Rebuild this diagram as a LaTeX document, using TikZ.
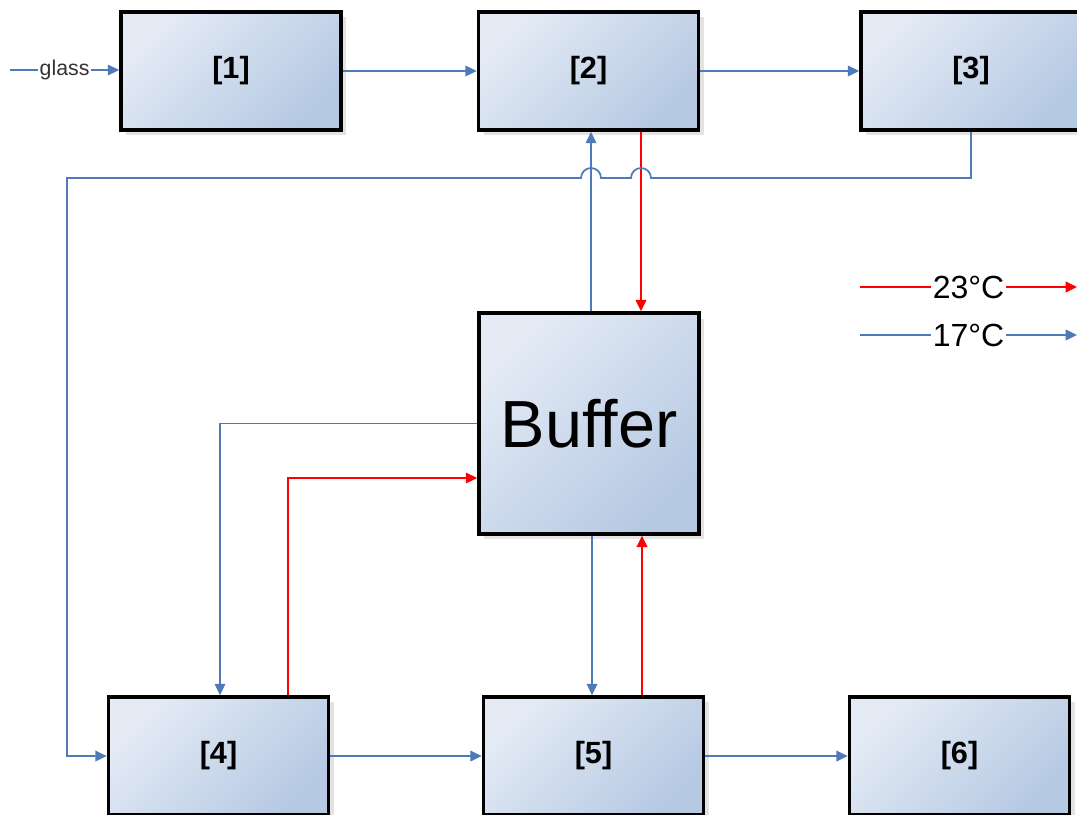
\documentclass[tikz,border=0pt]{standalone}
\usepackage{fontspec}
\setmainfont{Liberation Sans}
\usetikzlibrary{arrows.meta,shadows}

\definecolor{boxlight}{RGB}{228,235,245}
\definecolor{boxdark}{RGB}{182,201,227}
\definecolor{coldline}{RGB}{79,122,186}
\definecolor{hotline}{RGB}{255,0,0}

\tikzset{
  unitbox/.style={draw=black, line width=2.8pt, inner sep=0pt,
    minimum width=165pt, minimum height=88.5pt,
    top color=boxlight, bottom color=boxdark, shading angle=45,
    drop shadow={shadow xshift=4pt, shadow yshift=-4pt, fill=black!18, opacity=0.6},
    font=\bfseries\fontsize{23}{23}\selectfont},
  bufferbox/.style={unitbox, minimum width=165pt, minimum height=165.5pt,
    font=\fontsize{50}{50}\selectfont},
  cold/.style={draw=coldline, line width=1.3pt},
  hot/.style={draw=hotline, line width=1.3pt},
  coldarrow/.style={cold, -{Triangle[length=8.5pt,width=8pt]}},
  hotarrow/.style={hot, -{Triangle[length=8.5pt,width=8pt]}},
  linelabel/.style={fill=white, inner sep=1pt, text=black},
}

\begin{document}
\begin{tikzpicture}[x=0.75pt,y=-0.75pt]
  \clip (0,0) rectangle (1077,814);
  \fill[white] (0,0) rectangle (1077,814);

  % process units
  \node[unitbox] (b1) at (231,71) {[1]};
  \node[unitbox] (b2) at (588.5,71) {[2]};
  \node[unitbox] (b3) at (971,71) {[3]};
  \node[bufferbox] (buf) at (589,423.5) {Buffer};
  \node[unitbox] (b4) at (218.5,756) {[4]};
  \node[unitbox] (b5) at (593.5,756) {[5]};
  \node[unitbox] (b6) at (959.5,756) {[6]};

  % helper coordinates for vertical connector positions
  \coordinate (xup) at (591,0);
  \coordinate (xdown) at (641,0);
  \coordinate (xbotc) at (592,0);
  \coordinate (xboth) at (642,0);
  \coordinate (x4c) at (220,0);
  \coordinate (x4h) at (288,0);
  \coordinate (yhot) at (0,478);
  \coordinate (glassin) at (10,70);

  % glass feed
  \draw[coldarrow] (glassin) -- node[linelabel, text=black!80, font=\fontsize{16}{16}\selectfont]{glass} (b1.west |- glassin);

  % top row flow
  \draw[coldarrow] (b1) -- (b2);
  \draw[coldarrow] (b2) -- (b3);

  % buffer <-> unit 2
  \draw[coldarrow] (buf.north -| xup) -- (b2.south -| xup);
  \draw[hotarrow] (b2.south -| xdown) -- (buf.north -| xdown);

  % return line from unit 3 to unit 4, hopping over the buffer lines
  \coordinate (r1) at (971,178);
  \coordinate (r2) at (67,178);
  \draw[coldarrow] (b3.south) -- (r1) -- (651,178)
      arc[start angle=0, end angle=-180, radius=10] -- (601,178)
      arc[start angle=0, end angle=-180, radius=10] -- (r2)
      -- (r2 |- b4.west) -- (b4.west);

  % buffer <-> unit 4
  \draw[coldarrow] (buf.west) -| (b4.north -| x4c);
  \draw[hotarrow] (b4.north -| x4h) |- (buf.west |- yhot);

  % buffer <-> unit 5
  \draw[coldarrow] (buf.south -| xbotc) -- (b5.north -| xbotc);
  \draw[hotarrow] (b5.north -| xboth) -- (buf.south -| xboth);

  % bottom row flow
  \draw[coldarrow] (b4) -- (b5);
  \draw[coldarrow] (b5) -- (b6);

  % legend
  \coordinate (hotA) at (860,287);
  \coordinate (hotB) at (1077,287);
  \coordinate (coldA) at (860,335);
  \coordinate (coldB) at (1077,335);
  \draw[hotarrow] (hotA) -- node[linelabel, font=\fontsize{24}{24}\selectfont]{23°C} (hotB);
  \draw[coldarrow] (coldA) -- node[linelabel, font=\fontsize{24}{24}\selectfont]{17°C} (coldB);
\end{tikzpicture}
\end{document}
